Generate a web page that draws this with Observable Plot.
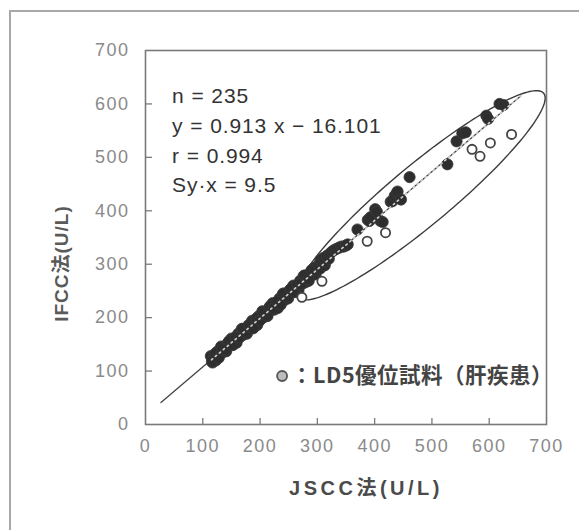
<!DOCTYPE html>
<html>
<head>
<meta charset="utf-8">
<script src="https://cdn.jsdelivr.net/npm/d3@7"></script>
<script src="https://cdn.jsdelivr.net/npm/@observablehq/plot@0.6"></script>
<style>
  html, body { margin: 0; padding: 0; background: #fff; overflow: hidden; width: 579px; height: 530px; }
  #outer { position: absolute; left: 9px; top: 10px; width: 700px; height: 700px; border: 2px solid #a8a8a8; box-sizing: border-box; }
  #chart { position: absolute; left: 0; top: 0; }
</style>
</head>
<body>
<div id="outer"></div>
<div id="chart"></div>
<script>
// ---- data ----
const xTicks = [0, 100, 200, 300, 400, 500, 600, 700];
const yTicks = [0, 100, 200, 300, 400, 500, 600, 700];
const innerTicks = [100, 200, 300, 400, 500, 600];

// JSCC (x) vs IFCC (y), ordinary samples (filled) - dense band
const bandX = [114,117,120,123,126,129,132,135,138,141,144,147,150,153,156,159,162,165,168,171,174,177,180,183,186,189,192,195,198,201,204,207,210,213,216,219,222,225,228,231,234,237,240,243,246,249,252,255,258,261,264,267,270,273,276,279,282,285,288,291,294,297,300,
  116,122,128,134,140,146,152,158,164,170,176,182,188,194,200,206,212,218,224,230,236,242,248,254,260,266,272,278,284,290,296,
  303,305,306,309,311,313,314,317,320,322,326,330,334,338,342,346,350,353];
const bandY = [128,116,128,120,137,131,146,135,142,137,153,149,161,149,161,153,170,164,179,168,175,170,186,182,194,182,194,186,203,197,212,201,208,203,219,214,227,215,227,218,236,230,245,233,241,236,252,247,260,248,260,251,269,263,278,266,274,269,285,280,293,281,293,
  118,133,125,141,140,156,149,164,163,179,172,183,180,199,195,207,204,222,218,230,224,245,239,254,248,262,263,279,272,289,289,
  300,292,308,303,312,298,306,316,310,320,324,327,329,331,333,333,335,337];
// ordinary samples outside the band
const upperX = [370,388,391,393,401,404,410,414,428,431,435,439,440,446,461,527,543,553,559,595,598,618,625];
const upperY = [365,383,381,388,403,398,381,379,417,418,428,434,436,421,463,487,530,545,547,578,572,600,598];

// LD5-dominant samples (liver disease, open circles)
const openX = [273, 308, 387, 419, 570, 584, 602, 639];
const openY = [238, 268, 343, 359, 515, 502, 527, 543];

// fitted line as drawn (end points)
const lineX = [27, 655];
const lineY = [41, 615];
const lineDotX = [115, 655];
const lineDotY = [121, 615];

// ellipse annotation: centre and conjugate semi-diameters (data units)
const ellipseC = [481, 429];
const ellipseA = [214, 191];
const ellipseB = [-34, 43];

const statLines = ["n = 235", "y = 0.913 x − 16.101", "r = 0.994", "Sy·x = 9.5"];
const xTitle = "JSCC法(U/L)";
const yTitle = "IFCC法(U/L)";
const legendText = "：LD5優位試料（肝疾患）";

// ---- tables ----
const filled = bandX.map((x, i) => ({x, y: bandY[i]}))
  .concat(upperX.map((x, i) => ({x, y: upperY[i]})));
const open = openX.map((x, i) => ({x, y: openY[i]}));
const regLine = lineX.map((x, i) => ({x, y: lineY[i]}));
const regDots = lineDotX.map((x, i) => ({x, y: lineDotY[i]}));
const ellipsePts = d3.range(0, 360, 2).map(deg => {
  const t = deg * Math.PI / 180;
  return {
    x: ellipseC[0] + ellipseA[0] * Math.cos(t) + ellipseB[0] * Math.sin(t),
    y: ellipseC[1] + ellipseA[1] * Math.cos(t) + ellipseB[1] * Math.sin(t)
  };
});

const W = 579, H = 530, mL = 145, mR = 33, mT = 50, mB = 106;
const frameW = W - mL - mR, frameH = H - mT - mB;
const FONT = "'Liberation Sans', Arial, 'Noto Sans CJK JP', sans-serif";

const marks = [
  Plot.frame({stroke: "#7a7a7a", strokeWidth: 1.6}),
  Plot.tickY(innerTicks, {y: d => d, stroke: "#7a7a7a", strokeWidth: 1.3, insetRight: frameW - 7}),
  Plot.tickX(innerTicks, {x: d => d, stroke: "#7a7a7a", strokeWidth: 1.3, insetTop: frameH - 6}),
  Plot.axisX({ticks: xTicks, tickSize: 0, tickPadding: 15, fontSize: 18, color: "#8a8a8a", label: null}),
  Plot.axisY({ticks: yTicks, tickSize: 0, tickPadding: 16, fontSize: 18, color: "#8a8a8a", label: null}),
  Plot.line(ellipsePts, {x: "x", y: "y", stroke: "#3c3c3c", strokeWidth: 1.4, curve: "linear-closed"}),
  Plot.line(regLine, {x: "x", y: "y", stroke: "#444", strokeWidth: 1.3}),
  Plot.dot(filled, {x: "x", y: "y", r: 5.6, fill: "#2e2e2e", stroke: "#3a3a3a", strokeWidth: 0.8}),
  Plot.dot(open, {x: "x", y: "y", r: 4.6, fill: "#fff", stroke: "#444", strokeWidth: 1.8}),
  Plot.line(regDots, {x: "x", y: "y", stroke: "#cfcfcf", strokeWidth: 1.6, strokeDasharray: "1.6,3.6"}),
  Plot.text([xTitle], {frameAnchor: "bottom", dx: 20, dy: 64, textAnchor: "middle", fontSize: 20, fontWeight: "bold", fill: "#4a4a4a", lineAnchor: "middle"}),
  Plot.text([yTitle], {frameAnchor: "left", dx: -84, dy: 26, textAnchor: "middle", rotate: -90, fontSize: 19, fontWeight: "bold", fill: "#5a5a5a", lineAnchor: "middle"}),
  Plot.dot([0], {frameAnchor: "bottom-left", dx: 136.6, dy: -48.5, r: 5, fill: "#bdbdbd", stroke: "#555", strokeWidth: 1.8}),
  Plot.text([legendText], {frameAnchor: "bottom-left", dx: 145.6, dy: -48.5, textAnchor: "start", lineAnchor: "middle", fontSize: 21.5, fontWeight: "bold", fill: "#444", fontFamily: "'Noto Sans CJK JP', sans-serif"})
];
statLines.forEach((s, i) => {
  marks.push(Plot.text([s], {frameAnchor: "top-left", dx: 26.6, dy: 46 + i * 29.7, textAnchor: "start", lineAnchor: "middle", fontSize: 21, fill: "#333"}));
});

const chart = Plot.plot({
  width: W, height: H,
  marginLeft: mL, marginRight: mR, marginTop: mT, marginBottom: mB,
  x: {domain: [0, 700]},
  y: {domain: [0, 700]},
  style: {fontFamily: FONT, background: "transparent", overflow: "visible"},
  marks
});
document.getElementById("chart").appendChild(chart);

// letter spacing tuned to the source typeface
d3.select(chart).selectAll("g[aria-label='x-axis tick label'] text, g[aria-label='y-axis tick label'] text").style("letter-spacing", "1.5px");
d3.select(chart).selectAll("text").each(function() {
  const t = this.textContent;
  if (t === xTitle) this.style.letterSpacing = "3.5px";
  else if (t === yTitle) this.style.letterSpacing = "1px";
  else if (t === legendText) this.style.letterSpacing = "0.5px";
  else if (statLines.includes(t)) this.style.letterSpacing = "0.9px";
});
</script>
</body>
</html>
